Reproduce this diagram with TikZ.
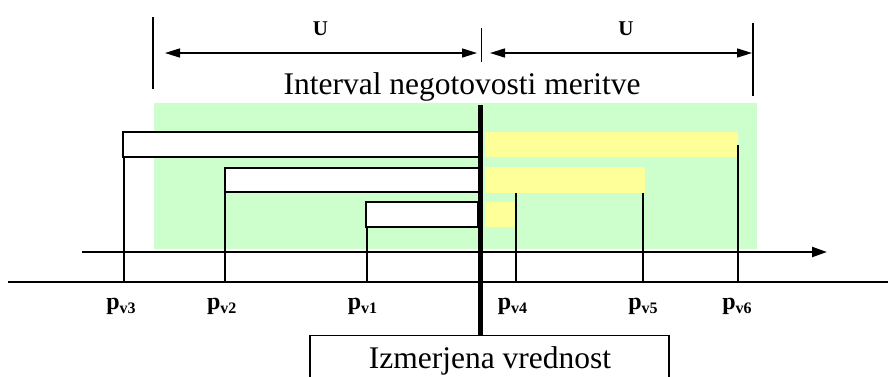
\documentclass[tikz,border=0pt]{standalone}
\usepackage{fontspec}
\setmainfont{Liberation Serif}
\usetikzlibrary{arrows.meta}
\definecolor{lgreen}{HTML}{CCFFCC}
\definecolor{lyellow}{HTML}{FFFF99}
\tikzset{
  wbox/.style={draw=black, line width=1.4pt, fill=white, inner sep=0pt},
  ybar/.style={fill=lyellow, draw=none, inner sep=0pt},
  gzone/.style={fill=lgreen, draw=none, inner sep=0pt},
  thin/.style={line width=1.5pt},
  dimline/.style={line width=1.5pt, {Triangle[length=15pt,width=9pt]}-{Triangle[length=15pt,width=9pt]}},
  axisline/.style={line width=2.2pt, -{Triangle[length=15pt,width=10pt]}},
  bigtext/.style={font=\fontsize{31.5}{36}\selectfont, inner sep=0pt},
  ulabel/.style={font=\fontsize{21}{23}\selectfont\bfseries, inner sep=0pt},
  plabel/.style={font=\fontsize{24}{26}\selectfont\bfseries, inner sep=0pt, anchor=base},
}
\newcommand{\pv}[1]{p\raisebox{-4pt}{\fontsize{16}{17}\selectfont #1}}
\begin{document}
\begin{tikzpicture}[x=1pt, y=-1pt]
\useasboundingbox (0,0) rectangle (888,376);
% green zone
\node[gzone, minimum width=603pt, minimum height=146pt] (green) at (455.5,176) {};
% yellow bars
\node[ybar, minimum width=253pt, minimum height=25pt] (y1) at (611.5,144.5) {};
\node[ybar, minimum width=160pt, minimum height=26pt] (y2) at (565,180) {};
\node[ybar, minimum width=32pt, minimum height=25pt] (y3) at (501,214.5) {};
% white boxes
\node[wbox, minimum width=357pt, minimum height=25pt] (box1) at (301.5,144.5) {};
\node[wbox, minimum width=255pt, minimum height=24pt] (box2) at (352.5,180) {};
\node[wbox, minimum width=112pt, minimum height=25pt] (box3) at (422,214.5) {};
% base line and axis
\coordinate (bl0) at (8,282);
\coordinate (bl1) at (890,282);
\draw[line width=1.6pt] (bl0) -- (bl1);
\coordinate (ax0) at (82,252);
\coordinate (ax1) at (827,252);
\draw[axisline] (ax0) -- (ax1);
% verticals from boxes
\draw[thin] ([xshift=1.5pt]box1.south west) -- ([xshift=1.5pt]box1.south west |- bl0);
\draw[thin] ([xshift=0.5pt]box2.south west) -- ([xshift=0.5pt]box2.south west |- bl0);
\draw[thin] ([xshift=1.5pt]box3.south west) -- ([xshift=1.5pt]box3.south west |- bl0);
\coordinate (t4) at (516,193);
\coordinate (t5) at (643,193);
\coordinate (t6) at (738,145);
\draw[thin] (t4) -- (t4 |- bl0);
\draw[thin] (t5) -- (t5 |- bl0);
\draw[thin] (t6) -- (t6 |- bl0);
% measured value box
\node[draw=black, line width=1.3pt, fill=white, minimum width=359pt, minimum height=50pt, anchor=north, inner sep=0pt] (meas) at (489.5,335) {};
\node[bigtext, anchor=base] (meastext) at (490,368.3) {Izmerjena vrednost};
% thick line
\coordinate (mv) at (480.5,105);
\draw[line width=4.3pt] (mv) -- (mv |- meas.north);
% dimension lines
\coordinate (d1a) at (153,17);
\coordinate (d1b) at (153,89);
\coordinate (d2a) at (481.7,28);
\coordinate (d2b) at (481.7,62);
\coordinate (d3a) at (753,23);
\coordinate (d3b) at (753,96);
\draw[line width=1.3pt] (d1a) -- (d1b);
\draw[line width=1.3pt] (d2a) -- (d2b);
\draw[line width=1.3pt] (d3a) -- (d3b);
\coordinate (u1a) at (165,53);
\coordinate (u1b) at (477,53);
\coordinate (u2a) at (490,53);
\coordinate (u2b) at (752,53);
\draw[dimline] (u1a) -- (u1b);
\draw[dimline] (u2a) -- (u2b);
\node[ulabel, anchor=base] (U1) at (320.5,35) {U};
\node[ulabel, anchor=base] (U2) at (626,35) {U};
% interval text
\node[bigtext, anchor=base] (itext) at (462,94.3) {Interval negotovosti meritve};
% p labels
\node[plabel] (p3) at (121,309.5) {\pv{v3}};
\node[plabel] (p2) at (221.7,309.5) {\pv{v2}};
\node[plabel] (p1) at (362.5,309.5) {\pv{v1}};
\node[plabel] (p4) at (512.5,309.5) {\pv{v4}};
\node[plabel] (p5) at (643,309.5) {\pv{v5}};
\node[plabel] (p6) at (737,309.5) {\pv{v6}};
\end{tikzpicture}
\end{document}
